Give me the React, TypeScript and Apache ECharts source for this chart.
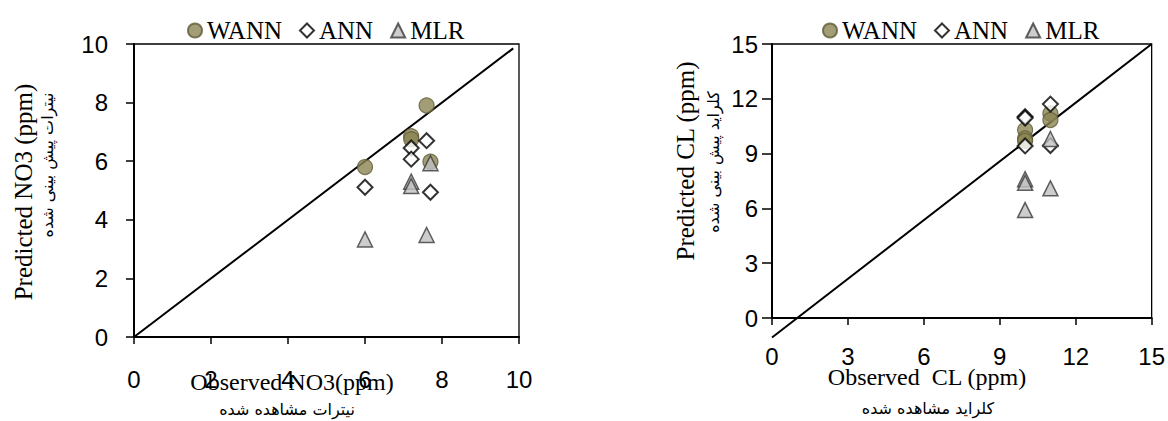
import React, { useEffect, useRef } from "react";
import * as echarts from "echarts";

// NO3 chart (left)
const no3Observed = [6.0, 7.2, 7.2, 7.6, 7.7];
const no3Wann = [5.8, 6.85, 6.75, 7.9, 5.98];
const no3Ann = [5.11, 6.45, 6.07, 6.7, 4.94];
const no3Mlr = [3.33, 5.3, 5.15, 3.48, 5.93];
const no3Line = [
  [0, 0],
  [9.85, 9.85],
];

// CL chart (right)
const clObserved = [10, 10, 10, 11, 11];
const clWann = [10.29, 9.83, 9.7, 11.2, 10.84];
const clAnn = [11.02, 10.95, 9.42, 11.71, 9.44];
const clMlr = [7.6, 7.4, 5.91, 9.8, 7.1];
const clLine = [
  [0, -1.07],
  [15, 15],
];

const no3Axis = { min: 0, max: 10, interval: 2 };
const clAxis = { min: 0, max: 15, interval: 3 };

const seriesNames = ["WANN", "ANN", "MLR"];
const legendIcons = ["circle", "diamond", "triangle"];

const texts = {
  no3X: "Observed NO3(ppm)",
  no3XFa: "نیترات مشاهده شده",
  no3Y: "Predicted NO3 (ppm)",
  no3YFa: "نیترات پیش بینی شده",
  clX: "Observed\u00a0 CL (ppm)",
  clXFa: "کلراید مشاهده شده",
  clY: "Predicted CL (ppm)",
  clYFa: "کلراید پیش بینی شده",
};

const SERIF = "'Liberation Serif', 'Times New Roman', serif";
const SANS = "'Liberation Sans', Arial, sans-serif";
const FA = "'DejaVu Sans', sans-serif";

const styles: Record<string, any> = {
  WANN: { color: "#8b8452", borderColor: "#5e5a37", borderWidth: 1.2 },
  ANN: { color: "#ffffff", borderColor: "#000000", borderWidth: 2 },
  MLR: { color: "#c0c0c0", borderColor: "#3a3a3a", borderWidth: 1.5 },
};
const symbols: Record<string, string> = { WANN: "circle", ANN: "diamond", MLR: "triangle" };

function zip(xs: number[], ys: number[]) {
  return xs.map((x, i) => [x, ys[i]]);
}

function axisCommon(range: any, labelMargin: number, tickLen: number) {
  return {
    type: "value",
    ...range,
    axisLine: { show: true, onZero: false, lineStyle: { color: "#000", width: 2 } },
    axisTick: { show: true, inside: false, length: tickLen, lineStyle: { color: "#000", width: 1.5 } },
    axisLabel: { margin: labelMargin, fontSize: 24, fontFamily: SANS, color: "#000" },
    splitLine: { show: false },
  };
}

function textEl(text: string, x: number, y: number, size: number, family: string, rot = 0) {
  return {
    type: "text",
    x,
    y,
    rotation: rot,
    style: {
      text,
      fill: "#000",
      fontSize: size,
      fontFamily: family,
      textAlign: "center",
      textVerticalAlign: "middle",
      align: "center",
      verticalAlign: "middle",
    },
  };
}

export default function App() {
  const ref = useRef<HTMLDivElement>(null);
  useEffect(() => {
    if (!ref.current) return;
    const chart = echarts.init(ref.current, undefined, { renderer: "svg" });
    const dataSets = [
      { obs: no3Observed, vals: [no3Wann, no3Ann, no3Mlr], line: no3Line },
      { obs: clObserved, vals: [clWann, clAnn, clMlr], line: clLine },
    ];
    const series: any[] = [];
    dataSets.forEach((d, gi) => {
      series.push({
        type: "line",
        xAxisIndex: gi,
        yAxisIndex: gi,
        data: d.line,
        symbol: "none",
        showSymbol: false,
        clip: false,
        silent: true,
        lineStyle: { color: "#000", width: 2 },
        z: 1,
      });
      seriesNames.forEach((name, si) => {
        series.push({
          type: "scatter",
          name,
          xAxisIndex: gi,
          yAxisIndex: gi,
          data: zip(d.obs, d.vals[si]),
          symbol: symbols[name],
          symbolSize: 15,
          itemStyle: styles[name],
          z: 2 + si,
        });
      });
    });

    const legendBase = {
      orient: "horizontal",
      top: 13,
      itemWidth: 14,
      itemHeight: 14,
      itemGap: 17,
      selectedMode: false,
      textStyle: { fontFamily: SERIF, fontSize: 25, color: "#000" },
      data: seriesNames.map((n, i) => ({ name: n, icon: legendIcons[i] })),
    };

    chart.setOption({
      animation: false,
      backgroundColor: "#fff",
      grid: [
        { left: 134, top: 44, width: 385, height: 293, show: true, borderColor: "#000", borderWidth: 1.3, backgroundColor: "transparent" },
        { left: 772, top: 44, width: 381, height: 274, show: true, borderColor: "#000", borderWidth: 1.3, backgroundColor: "transparent" },
      ],
      xAxis: [
        { ...axisCommon(no3Axis, 30, 7), gridIndex: 0 },
        { ...axisCommon(clAxis, 26, 7), gridIndex: 1 },
      ],
      yAxis: [
        { ...axisCommon(no3Axis, 26, 8), gridIndex: 0 },
        { ...axisCommon(clAxis, 14, 10), gridIndex: 1 },
      ],
      legend: [
        { ...legendBase, left: 182 },
        { ...legendBase, left: 817 },
      ],
      graphic: [
        textEl(texts.no3X, 292, 382, 24, SERIF),
        textEl(texts.no3XFa, 287, 409, 16, FA),
        textEl(texts.no3Y, 23, 192, 25, SERIF, Math.PI / 2),
        textEl(texts.no3YFa, 47, 165, 16, FA, Math.PI / 2),
        textEl(texts.clX, 927, 377, 24, SERIF),
        textEl(texts.clXFa, 928, 408, 16, FA),
        textEl(texts.clY, 685, 161, 25, SERIF, Math.PI / 2),
        textEl(texts.clYFa, 713, 162, 16, FA, Math.PI / 2),
      ],
      series,
    });
    return () => chart.dispose();
  }, []);
  return (
    <div
      ref={ref}
      style={{ position: "fixed", left: 0, top: 0, width: 1168, height: 421, background: "#fff" }}
    />
  );
}
